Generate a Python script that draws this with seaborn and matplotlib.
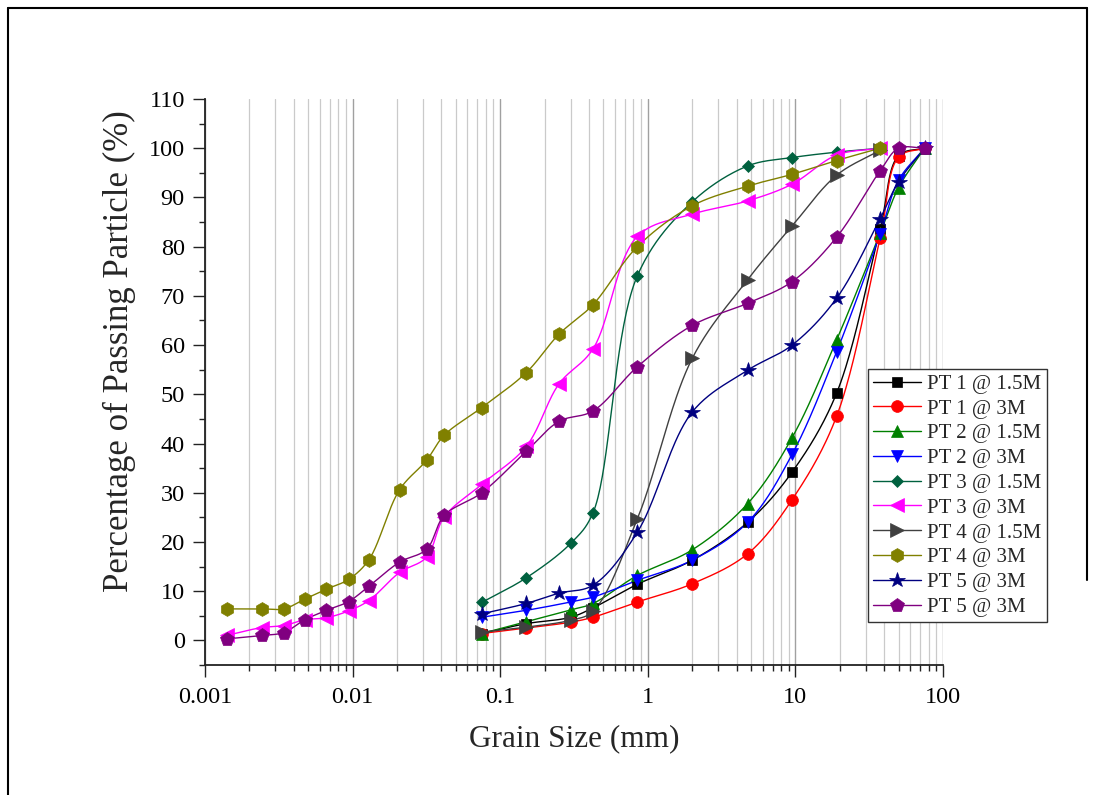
import numpy as np
import pandas as pd
import matplotlib
matplotlib.use("Agg")
import matplotlib.pyplot as plt
import seaborn as sns
from matplotlib.lines import Line2D
from matplotlib.ticker import LogLocator, FuncFormatter, MultipleLocator, NullFormatter

# ---------------- data ----------------
sieve = [0.075, 0.15, 0.3, 0.425, 0.85, 2, 4.75, 9.5, 19, 37.5, 50, 75]
sieve_b = [0.075, 0.15, 0.25, 0.425, 0.85, 2, 4.75, 9.5, 19, 37.5, 50, 75]
hydro = [0.0014, 0.00242, 0.00342, 0.00475, 0.00664, 0.0094, 0.0129, 0.0208, 0.0317, 0.0418]

pt1_15 = [1.4, 3.4, 4.7, 6.6, 11.4, 16.3, 24.0, 34.2, 50.2, 83.6, 98.5, 100]
pt1_3 = [1.4, 2.5, 3.7, 4.7, 7.8, 11.5, 17.6, 28.6, 45.5, 81.7, 98.2, 100]
pt2_15 = [1.4, 3.8, 6.2, 7.5, 13.2, 18.4, 27.8, 41.2, 61.0, 82.7, 92.0, 100]
pt2_3 = [4.7, 6.1, 7.8, 8.8, 12.2, 16.3, 24.0, 37.8, 58.6, 82.6, 93.5, 100]
pt3_15 = [7.7, 12.7, 19.7, 25.9, 74.1, 89.1, 96.4, 98.1, 99.2, 100]
pt3_3 = [1.0, 2.6, 3.0, 4.2, 4.6, 6.0, 8.1, 13.8, 16.9, 25.1,
         31.7, 39.4, 52.1, 59.2, 82.1, 86.6, 89.3, 92.7, 98.6, 100]
pt4_15 = [1.7, 2.7, 4.1, 5.9, 24.7, 57.3, 73.3, 84.2, 94.5, 99.6]
pt4_3 = [6.4, 6.4, 6.4, 8.4, 10.4, 12.4, 16.4, 30.6, 36.6, 41.7,
         47.3, 54.4, 62.2, 68.2, 80.0, 88.3, 92.3, 94.7, 97.5, 100]
pt5_3a = [5.4, 7.5, 9.6, 11.2, 22.0, 46.4, 54.9, 60.0, 69.5, 85.7, 93.2, 100]
pt5_3b = [0.3, 1.0, 1.6, 4.2, 6.1, 7.9, 11.0, 15.9, 18.5, 25.4,
          30.0, 38.4, 44.5, 46.6, 55.6, 64.0, 68.5, 72.9, 81.9, 95.4, 100, 100]

labels = ["PT 1 @ 1.5M", "PT 1 @ 3M", "PT 2 @ 1.5M", "PT 2 @ 3M", "PT 3 @ 1.5M",
          "PT 3 @ 3M", "PT 4 @ 1.5M", "PT 4 @ 3M", "PT 5 @ 3M", "PT 5 @ 3M"]

series = [
    (sieve, pt1_15, "#000000", "s", 7.5),
    (sieve, pt1_3, "#FF0000", "o", 8.5),
    (sieve, pt2_15, "#008000", "^", 9),
    (sieve, pt2_3, "#0000FF", "v", 9),
    (sieve[:10], pt3_15, "#00613F", "D", 6.5),
    (hydro + sieve_b[:10], pt3_3, "#FF00FF", "<", 9.5),
    (sieve[:10], pt4_15, "#404040", ">", 9.5),
    (hydro + sieve_b[:10], pt4_3, "#808000", "h", 10),
    (sieve_b, pt5_3a, "#000080", "*", 11.5),
    (hydro + sieve_b, pt5_3b, "#800080", "p", 10),
]


def smooth(x, y, n=40):
    """centripetal Catmull-Rom through points in log-x space."""
    u = np.log10(np.asarray(x, float)) * 147.6
    v = np.asarray(y, float) * 4.92
    P = np.column_stack([u, v])
    P = np.vstack([2 * P[0] - P[1], P, 2 * P[-1] - P[-2]])
    out = []
    for i in range(1, len(P) - 2):
        p0, p1, p2, p3 = P[i - 1], P[i], P[i + 1], P[i + 2]
        t0 = 0.0
        t1 = t0 + max(np.linalg.norm(p1 - p0), 1e-6) ** 0.5
        t2 = t1 + max(np.linalg.norm(p2 - p1), 1e-6) ** 0.5
        t3 = t2 + max(np.linalg.norm(p3 - p2), 1e-6) ** 0.5
        t = np.linspace(t1, t2, n)[:, None]
        A1 = (t1 - t) / (t1 - t0) * p0 + (t - t0) / (t1 - t0) * p1
        A2 = (t2 - t) / (t2 - t1) * p1 + (t - t1) / (t2 - t1) * p2
        A3 = (t3 - t) / (t3 - t2) * p2 + (t - t2) / (t3 - t2) * p3
        B1 = (t2 - t) / (t2 - t0) * A1 + (t - t0) / (t2 - t0) * A2
        B2 = (t3 - t) / (t3 - t1) * A2 + (t - t1) / (t3 - t1) * A3
        C = (t2 - t) / (t2 - t1) * B1 + (t - t1) / (t2 - t1) * B2
        out.append(C if i == 1 else C[1:])
    C = np.vstack(out)
    return 10 ** (C[:, 0] / 147.6), C[:, 1] / 4.92


# ---------------- figure ----------------
sns.set_theme(style="white")
plt.rcParams["font.family"] = ["Liberation Serif", "DejaVu Serif"]

fig = plt.figure(figsize=(10.94, 7.95), dpi=100)
ax = fig.add_axes([205 / 1094, 1 - 665 / 795, 738 / 1094, 566 / 795])
ax.set_xscale("log")

handles = []
for (xs, ys, col, mk, ms), lab in zip(series, labels):
    cx, cy = smooth(xs, ys)
    df = pd.DataFrame({"x": cx, "y": cy})
    sns.lineplot(data=df, x="x", y="y", ax=ax, color=col, lw=1.0,
                 estimator=None, sort=False, legend=False, zorder=3)
    ax.plot(xs, ys, linestyle="none", marker=mk, markersize=ms, color=col,
            markeredgecolor=col, markeredgewidth=0.5, zorder=4)
    handles.append(Line2D([], [], color=col, lw=1.0, marker=mk, markersize=ms,
                          markeredgecolor=col, markeredgewidth=0.5))

ax.set_xlim(0.001, 100)
ax.set_ylim(-5, 110)
ax.xaxis.set_major_locator(LogLocator(base=10, numticks=12))
ax.xaxis.set_minor_locator(LogLocator(base=10, subs=np.arange(2, 10), numticks=12))
ax.xaxis.set_major_formatter(FuncFormatter(lambda v, _: f"{v:g}"))
ax.xaxis.set_minor_formatter(NullFormatter())
ax.set_yticks(np.arange(0, 111, 10))
ax.yaxis.set_minor_locator(MultipleLocator(5))

ax.grid(True, which="major", axis="x", color="#a0a0a0", lw=1.0)
ax.grid(True, which="minor", axis="x", color="#cacaca", lw=0.9)
ax.grid(False, axis="y", which="both")
ax.set_axisbelow(True)

for s in ["top", "right"]:
    ax.spines[s].set_visible(False)
for s in ["left", "bottom"]:
    ax.spines[s].set_color("#222222")
    ax.spines[s].set_linewidth(1.3)

ax.tick_params(axis="both", which="major", direction="out", length=8.5, width=1.0,
               color="#222222", labelsize=17.5, labelcolor="black", bottom=True, left=True)
ax.tick_params(axis="both", which="minor", direction="out", length=4.5, width=1.0,
               color="#222222", bottom=True, left=True)
ax.tick_params(axis="x", which="major", pad=7)
ax.tick_params(axis="y", which="major", pad=6)

ax.set_xlabel("Grain Size (mm)", fontsize=22.5, labelpad=12)
ax.set_ylabel("Percentage of Passing Particle (%)", fontsize=25)
ax.yaxis.set_label_coords(-0.0935, 0.555)

leg = fig.legend(handles, labels, loc="upper left",
                 bbox_to_anchor=(868 / 1094, 1 - 369 / 795), bbox_transform=fig.transFigure,
                 borderaxespad=0, fontsize=15, frameon=True, fancybox=False,
                 handlelength=2.3, handletextpad=0.3, labelspacing=0.25,
                 borderpad=0.25, framealpha=1)
leg.get_frame().set_edgecolor("#333333")
leg.get_frame().set_linewidth(1.0)

# outer frame of the picture
fx0, fx1, fy1 = 8 / 1094, 1087 / 1094, 1 - 8 / 795
fig.add_artist(Line2D([fx0, fx1], [fy1, fy1], color="black", lw=1.5, transform=fig.transFigure))
fig.add_artist(Line2D([fx0, fx0], [fy1, 0], color="black", lw=1.5, transform=fig.transFigure))
fig.add_artist(Line2D([fx1, fx1], [fy1, 1 - 580 / 795], color="black", lw=1.5, transform=fig.transFigure))

fig.savefig("out.png", dpi=100)
